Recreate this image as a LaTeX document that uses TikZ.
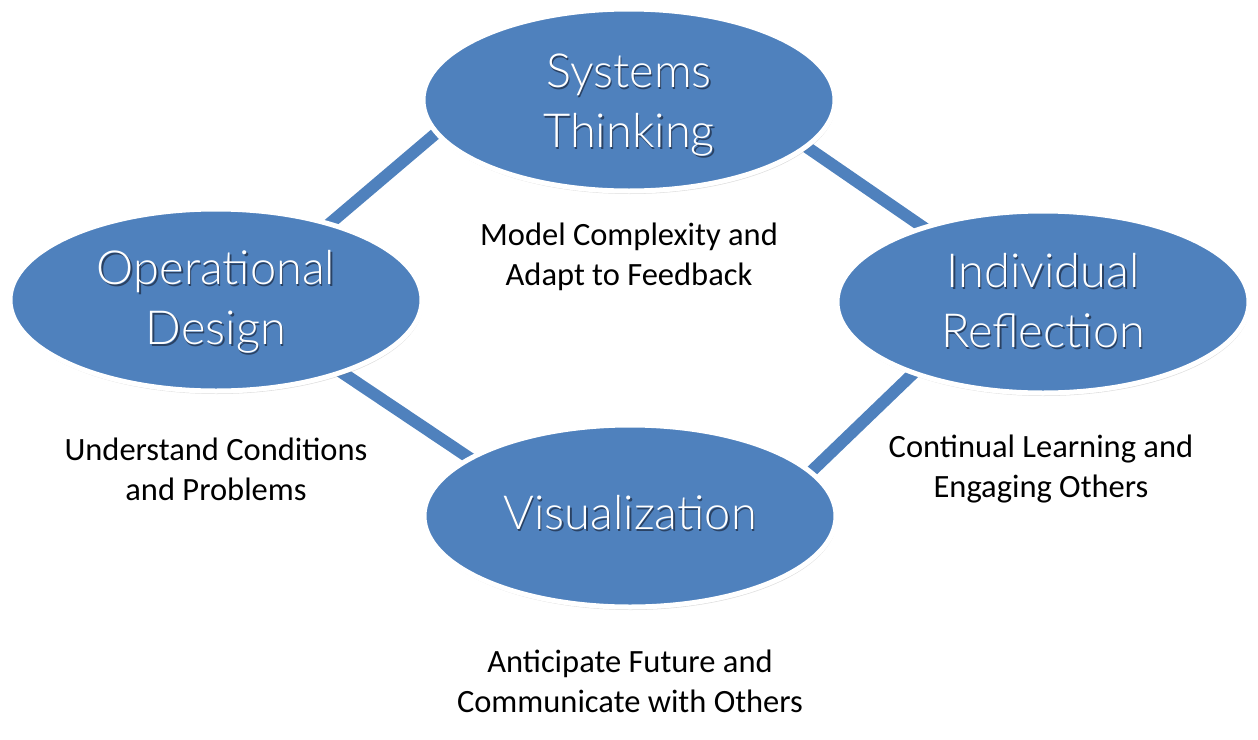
\documentclass[tikz,border=0pt]{standalone}
\usepackage{fontspec}
\setmainfont{Carlito}
\newfontfamily\ellfont{Lato Light}
\usetikzlibrary{shapes.geometric,shadows,backgrounds}
\definecolor{obl}{HTML}{4F81BD}
\definecolor{tsh}{RGB}{42,66,100}
\newcommand\shtext[1]{\leavevmode\rlap{\kern1.5pt\raisebox{-2pt}{\color{tsh}#1}}#1}
\begin{document}
\begin{tikzpicture}[x=1pt,y=-1pt,
  bubble/.style={ellipse, draw=white, line width=5pt, fill=obl,
    minimum width=412pt, minimum height=182pt, inner sep=0pt,
    drop shadow={shadow xshift=1pt, shadow yshift=-3pt, opacity=0.22, fill=black!60}},
  bubtext/.style={text=white, inner sep=0pt,
    font=\ellfont\fontsize{47}{60}\selectfont, align=center},
  link/.style={draw=obl, line width=12pt, shorten <=-8pt, shorten >=-8pt},
  note/.style={font=\fontsize{32.5}{40}\selectfont, align=center, text=black}]
\useasboundingbox (0,0) rectangle (1258,739);
\node[bubble] (T) at (629,100) {};
\node[bubble] (L) at (216,300) {};
\node[bubble] (R) at (1043,302) {};
\node[bubble] (B) at (630,516) {};
\node[bubtext] (Tt) at ([yshift=-6pt]T.center) {\shtext{Systems}\\\shtext{Thinking}};
\node[bubtext] (Lt) at ([yshift=-3pt]L.center) {\shtext{Operational}\\\shtext{Design}};
\node[bubtext] (Rt) at ([yshift=0pt]R.center) {\shtext{Individual}\\\shtext{Reflection}};
\node[bubtext] (Bt) at ([yshift=2pt]B.center) {\shtext{Visualization}};
\begin{scope}[on background layer]
\draw[link] (L.34) -- (T.190);
\draw[link] (T.345) -- (R.148);
\draw[link] (R.209) -- (B.14);
\draw[link] (L.330) -- (B.160);
\end{scope}
\node[note] (tl) at (629,257) {Model Complexity and\\Adapt to Feedback};
\node[note] (ll) at (216,469) {Understand Conditions\\and Problems};
\node[note] (rl) at (1041,469) {Continual Learning and\\Engaging Others};
\node[note] (bl) at (630,681) {Anticipate Future and\\Communicate with Others};
\end{tikzpicture}
\end{document}
